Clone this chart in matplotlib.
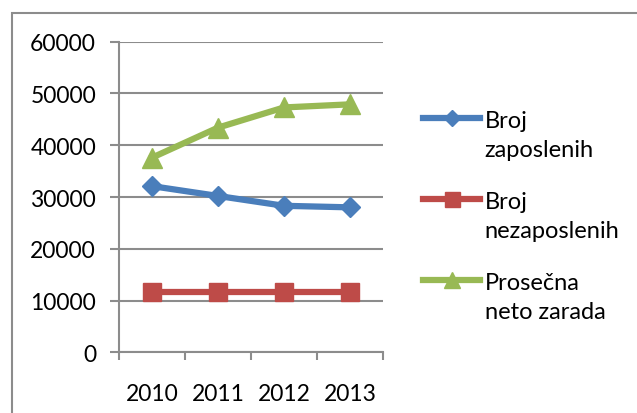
import matplotlib
matplotlib.use("Agg")
import matplotlib.pyplot as plt
from matplotlib.patches import Rectangle
from matplotlib.legend_handler import HandlerLine2D

plt.rcParams['font.family'] = ['Lato', 'DejaVu Sans']

# podaci
godine = ['2010', '2011', '2012', '2013']
zaposleni = [32100, 30200, 28300, 28000]
nezaposleni = [11700, 11700, 11700, 11700]
neto_zarada = [37600, 43400, 47300, 47900]
nazivi = ['Broj\nzaposlenih', 'Broj\nnezaposlenih', 'Prosečna\nneto zarada']
y_ticks = [0, 10000, 20000, 30000, 40000, 50000, 60000]

FS = 16.5
LEG_FS = 17
LINESP = 1.45


class HandlerPrviRed(HandlerLine2D):
    # oznaka u legendi poravnata sa prvim redom teksta (kao u Excelu)
    def create_artists(self, legend, orig_handle, xdescent, ydescent,
                       width, height, fontsize, trans):
        arts = super().create_artists(legend, orig_handle, xdescent, ydescent,
                                      width, height, fontsize, trans)
        pomak = 0.5 * LINESP * fontsize * 1.0
        for a in arts:
            a.set_ydata([y + pomak for y in a.get_ydata()])
        return arts


W, H = 637, 414
fig = plt.figure(figsize=(W / 100, H / 100), dpi=100)
ax = fig.add_axes([119 / W, 1 - 353.3 / H, (383 - 119) / W, (353.3 - 42.7) / H])

# okvir grafikona
fig.patches.append(Rectangle((12 / W, -0.1), 1.2, 1 - 14 / H + 0.1,
                             transform=fig.transFigure, fill=False,
                             ec='#8c8c8c', lw=1.5))

x = list(range(len(godine)))
l1, = ax.plot(x, zaposleni, color='#4A7EBB', lw=4.5, marker='D', ms=10.5,
              label=nazivi[0])
l2, = ax.plot(x, nezaposleni, color='#BE4B48', lw=4.5, marker='s', ms=13.5,
              label=nazivi[1])
l3, = ax.plot(x, neto_zarada, color='#98B954', lw=4.5, marker='^', ms=15,
              label=nazivi[2])

ax.set_ylim(0, 60000)
ax.set_xlim(-0.5, len(godine) - 0.5)
ax.set_yticks(y_ticks)
ax.set_yticklabels([str(v) for v in y_ticks])
ax.yaxis.grid(True, color='#8c8c8c', lw=1.5)
ax.set_axisbelow(True)

ax.set_xticks([i - 0.5 for i in range(len(godine) + 1)])
ax.set_xticklabels([])
ax.set_xticks(x, minor=True)
ax.set_xticklabels(godine, minor=True)
ax.tick_params(axis='x', which='major', length=6, width=1.5, color='#8c8c8c')
ax.tick_params(axis='x', which='minor', length=0, pad=22, labelsize=FS)
ax.tick_params(axis='y', length=6.5, width=1.5, color='#8c8c8c', pad=10,
               labelsize=FS)

for s in ['top', 'right']:
    ax.spines[s].set_visible(False)
for s in ['left', 'bottom']:
    ax.spines[s].set_color('#8c8c8c')
    ax.spines[s].set_linewidth(1.5)

h = HandlerPrviRed()
leg = fig.legend(handles=[l1, l2, l3], loc='upper left',
                 bbox_to_anchor=(402 / W, 1 - 90 / H),
                 frameon=False, fontsize=LEG_FS, numpoints=1,
                 handlelength=2.4, handletextpad=0.2, labelspacing=1.32,
                 markerscale=0.8, handler_map={l1: h, l2: h, l3: h})
for t in leg.get_texts():
    t.set_linespacing(LINESP)

fig.savefig('out.png', dpi=100)
